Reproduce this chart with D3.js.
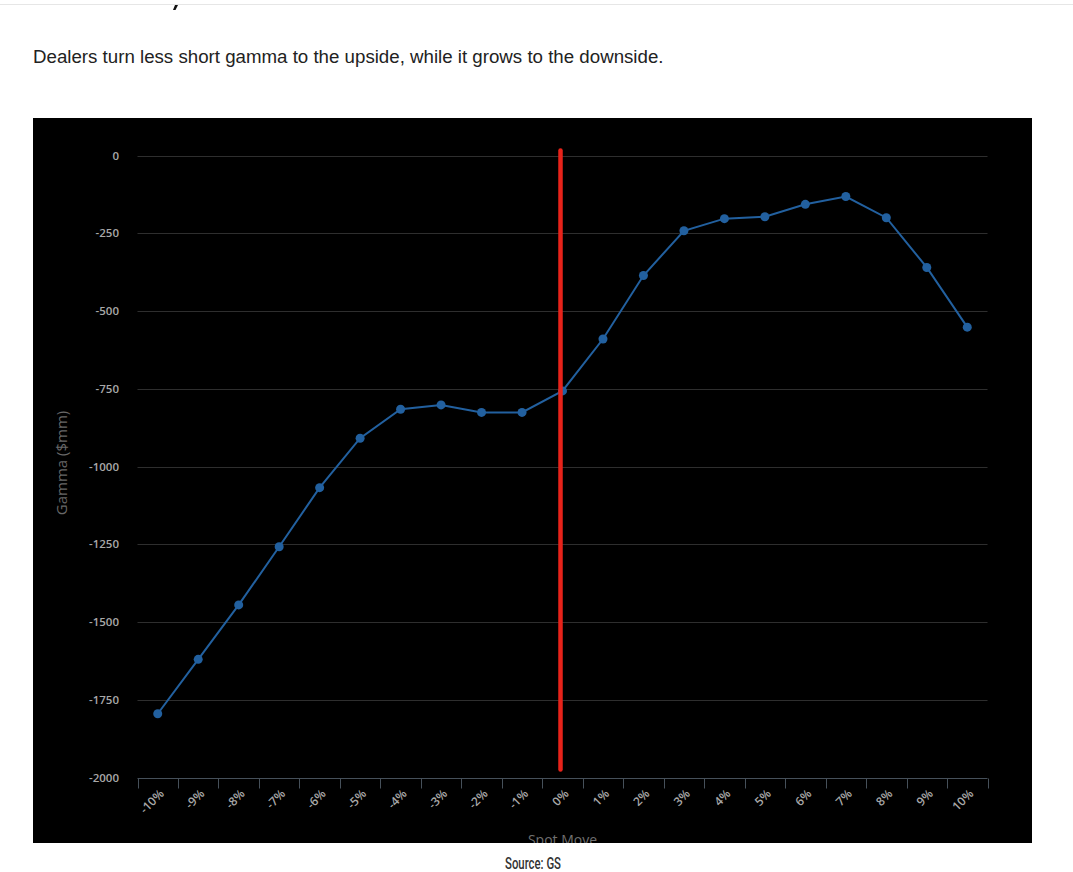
<!DOCTYPE html>
<html lang="en">
<head>
  <meta charset="UTF-8">
  <title>Dealer gamma by spot move</title>
  <script src="https://d3js.org/d3.v7.min.js"></script>
  <style>
    body {
      margin: 0;
      background: #ffffff;
      overflow: hidden;
    }
    svg {
      display: block;
    }
    .title {
      font-family: "Liberation Sans", Arial, sans-serif;
      font-size: 18.7px;
      fill: #222222;
    }
    .tick-label {
      font-family: "Open Sans", "DejaVu Sans", sans-serif;
      font-size: 11.5px;
      font-weight: 600;
      fill: #a8a8a8;
    }
    .axis-title {
      font-family: "Open Sans", "DejaVu Sans", sans-serif;
      font-size: 12px;
      fill: #707070;
    }
    .source {
      font-family: "Roboto", "DejaVu Sans", sans-serif;
      font-size: 17px;
      font-weight: 500;
      fill: #333333;
    }
  </style>
</head>
<body>
  <svg width="1073" height="872"></svg>

  <script>
    // chart data
    const moves = ["-10%", "-9%", "-8%", "-7%", "-6%", "-5%", "-4%", "-3%", "-2%", "-1%", "0%",
                   "1%", "2%", "3%", "4%", "5%", "6%", "7%", "8%", "9%", "10%"];
    const gamma = [-1795, -1620, -1445, -1258, -1068, -909, -816, -802, -826, -826, -757,
                   -590, -386, -242, -203, -197, -157, -132, -200, -360, -552];
    const yTicks = [0, -250, -500, -750, -1000, -1250, -1500, -1750, -2000];
    const markerMove = "0%";

    const svg = d3.select("svg");

    // page chrome: divider and the tail of a heading cut off above
    svg.append("line")
      .attr("x1", 0).attr("x2", 1073)
      .attr("y1", 4.5).attr("y2", 4.5)
      .attr("stroke", "#e6e6e6");
    svg.append("path")
      .attr("d", "M175,5 L178,5 L175.5,10 L173,10 Z")
      .attr("fill", "#111");

    svg.append("text")
      .attr("class", "title")
      .attr("x", 33).attr("y", 63)
      .text("Dealers turn less short gamma to the upside, while it grows to the downside.");

    // black chart panel
    const panel = { x: 33, y: 118, w: 999, h: 725 };
    svg.append("clipPath").attr("id", "panelClip")
      .append("rect")
      .attr("x", panel.x).attr("y", panel.y)
      .attr("width", panel.w).attr("height", panel.h);

    const g = svg.append("g").attr("clip-path", "url(#panelClip)");
    g.append("rect")
      .attr("x", panel.x).attr("y", panel.y)
      .attr("width", panel.w).attr("height", panel.h)
      .attr("fill", "#000000");

    const x = d3.scaleBand().domain(moves).range([137.5, 987.5]).padding(0);
    const y = d3.scaleLinear().domain([-2000, 0]).range([777.5, 155.5]);
    const cx = d => x(d) + x.bandwidth() / 2;

    // horizontal grid
    g.selectAll("line.grid")
      .data(yTicks.filter(t => t !== -2000))
      .join("line")
      .attr("class", "grid")
      .attr("x1", x.range()[0]).attr("x2", x.range()[1])
      .attr("y1", d => Math.round(y(d)) + 0.5)
      .attr("y2", d => Math.round(y(d)) + 0.5)
      .attr("stroke", "#2e2e2e")
      .attr("stroke-width", 1);

    // y labels
    g.selectAll("text.ylab")
      .data(yTicks)
      .join("text")
      .attr("class", "tick-label")
      .attr("x", 119)
      .attr("y", d => y(d) + 4)
      .attr("text-anchor", "end")
      .text(d => d);

    g.append("text")
      .attr("class", "axis-title")
      .attr("transform", "translate(67,463) rotate(-90)")
      .attr("text-anchor", "middle")
      .style("font-size", "15px")
      .style("fill", "#686868")
      .text("Gamma ($mm)");

    // x axis line with ticks between categories
    const axisY = Math.round(y(-2000)) + 0.5;
    g.append("line")
      .attr("x1", x.range()[0]).attr("x2", x.range()[1])
      .attr("y1", axisY).attr("y2", axisY)
      .attr("stroke", "#46505a")
      .attr("stroke-width", 1.2);

    const bounds = moves.map(m => x(m)).concat([x.range()[1]]);
    g.selectAll("line.xtick")
      .data(bounds)
      .join("line")
      .attr("class", "xtick")
      .attr("x1", d => Math.round(d) + 0.5).attr("x2", d => Math.round(d) + 0.5)
      .attr("y1", axisY).attr("y2", axisY + 10)
      .attr("stroke", "#46505a");

    g.selectAll("text.xlab")
      .data(moves)
      .join("text")
      .attr("class", "tick-label")
      .attr("text-anchor", "end")
      .style("font-size", "12px")
      .attr("transform", d => `translate(${cx(d) + 7},${axisY + 16}) rotate(-45)`)
      .text(d => d);

    g.append("text")
      .attr("class", "axis-title")
      .attr("x", cx(markerMove))
      .attr("y", 845)
      .attr("text-anchor", "middle")
      .style("font-size", "14px")
      .text("Spot Move");

    // series line + markers
    const pts = moves.map((m, i) => ({ m, v: gamma[i] }));
    g.append("path")
      .datum(pts)
      .attr("fill", "none")
      .attr("stroke", "#22609f")
      .attr("stroke-width", 2)
      .attr("d", d3.line().x(d => cx(d.m)).y(d => y(d.v)));

    g.selectAll("circle.pt")
      .data(pts)
      .join("circle")
      .attr("class", "pt")
      .attr("cx", d => cx(d.m))
      .attr("cy", d => y(d.v))
      .attr("r", 4.5)
      .attr("fill", "#22609f");

    // red marker at 0%
    g.append("line")
      .attr("x1", cx(markerMove) - 2).attr("x2", cx(markerMove) - 2)
      .attr("y1", y(0) - 5).attr("y2", y(-2000) - 8)
      .attr("stroke", "#e8231a")
      .attr("stroke-width", 4.5)
      .attr("stroke-linecap", "round");

    svg.append("text")
      .attr("class", "source")
      .attr("x", 533).attr("y", 869)
      .attr("text-anchor", "middle")
      .attr("textLength", 56)
      .attr("lengthAdjust", "spacingAndGlyphs")
      .text("Source: GS");
  </script>
</body>
</html>
